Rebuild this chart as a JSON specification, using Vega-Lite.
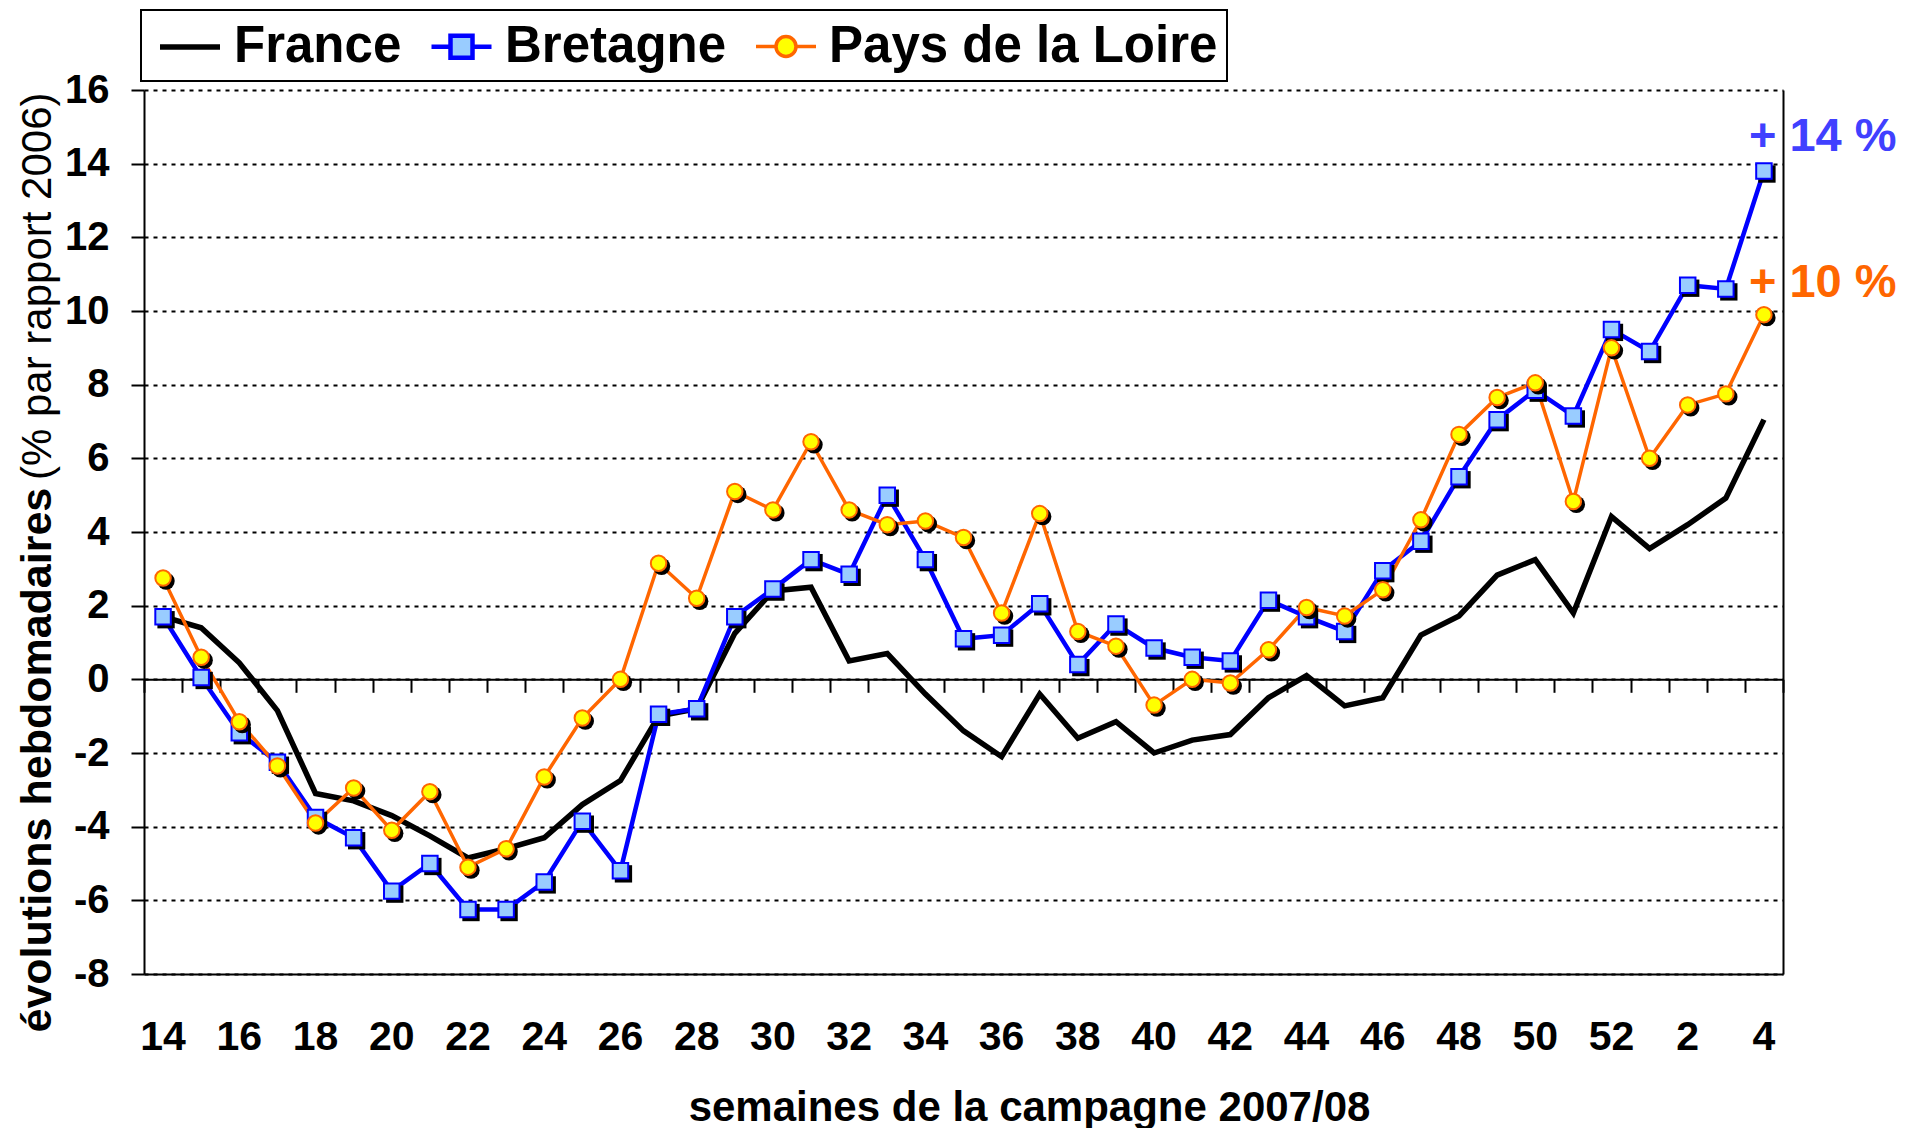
{
  "$schema": "https://vega.github.io/schema/vega-lite/v6.json",
  "width": 1639,
  "height": 884,
  "autosize": {"type": "none"},
  "padding": {"left": 144, "top": 90, "right": 124, "bottom": 154},
  "background": "white",
  "config": {
    "view": {"stroke": null},
    "font": "Liberation Sans",
    "legend": {
      "orient": "none",
      "legendX": -3,
      "legendY": -80,
      "direction": "horizontal",
      "strokeColor": "black",
      "strokeWidth": 2,
      "fillColor": "white",
      "padding": 9,
      "labelFont": "Liberation Sans",
      "labelFontSize": 51,
      "labelFontWeight": "bold",
      "labelColor": "black",
      "symbolSize": 2500,
      "labelOffset": 28,
      "columnPadding": 20,
      "labelLimit": 0
    }
  },
  "data": {
    "values": [
      {"semaine": "14", "France": 1.7, "Bretagne": 1.7, "Pays de la Loire": 2.75},
      {"semaine": "15", "France": 1.4, "Bretagne": 0.05, "Pays de la Loire": 0.6},
      {"semaine": "16", "France": 0.45, "Bretagne": -1.45, "Pays de la Loire": -1.15},
      {"semaine": "17", "France": -0.85, "Bretagne": -2.25, "Pays de la Loire": -2.35},
      {"semaine": "18", "France": -3.1, "Bretagne": -3.75, "Pays de la Loire": -3.9},
      {"semaine": "19", "France": -3.3, "Bretagne": -4.3, "Pays de la Loire": -2.95},
      {"semaine": "20", "France": -3.7, "Bretagne": -5.75, "Pays de la Loire": -4.1},
      {"semaine": "21", "France": -4.25, "Bretagne": -5.0, "Pays de la Loire": -3.05},
      {"semaine": "22", "France": -4.85, "Bretagne": -6.25, "Pays de la Loire": -5.1},
      {"semaine": "23", "France": -4.6, "Bretagne": -6.25, "Pays de la Loire": -4.6},
      {"semaine": "24", "France": -4.3, "Bretagne": -5.5, "Pays de la Loire": -2.65},
      {"semaine": "25", "France": -3.4, "Bretagne": -3.85, "Pays de la Loire": -1.05},
      {"semaine": "26", "France": -2.75, "Bretagne": -5.2, "Pays de la Loire": 0.0},
      {"semaine": "27", "France": -1.0, "Bretagne": -0.95, "Pays de la Loire": 3.15},
      {"semaine": "28", "France": -0.8, "Bretagne": -0.8, "Pays de la Loire": 2.2},
      {"semaine": "29", "France": 1.25, "Bretagne": 1.7, "Pays de la Loire": 5.1},
      {"semaine": "30", "France": 2.4, "Bretagne": 2.45, "Pays de la Loire": 4.6},
      {"semaine": "31", "France": 2.5, "Bretagne": 3.25, "Pays de la Loire": 6.45},
      {"semaine": "32", "France": 0.5, "Bretagne": 2.85, "Pays de la Loire": 4.6},
      {"semaine": "33", "France": 0.7, "Bretagne": 5.0, "Pays de la Loire": 4.2},
      {"semaine": "34", "France": -0.4, "Bretagne": 3.25, "Pays de la Loire": 4.3},
      {"semaine": "35", "France": -1.4, "Bretagne": 1.1, "Pays de la Loire": 3.85},
      {"semaine": "36", "France": -2.1, "Bretagne": 1.2, "Pays de la Loire": 1.8},
      {"semaine": "37", "France": -0.4, "Bretagne": 2.05, "Pays de la Loire": 4.5},
      {"semaine": "38", "France": -1.6, "Bretagne": 0.4, "Pays de la Loire": 1.3},
      {"semaine": "39", "France": -1.15, "Bretagne": 1.5, "Pays de la Loire": 0.9},
      {"semaine": "40", "France": -2.0, "Bretagne": 0.85, "Pays de la Loire": -0.7},
      {"semaine": "41", "France": -1.65, "Bretagne": 0.6, "Pays de la Loire": 0.0},
      {"semaine": "42", "France": -1.5, "Bretagne": 0.5, "Pays de la Loire": -0.1},
      {"semaine": "43", "France": -0.5, "Bretagne": 2.15, "Pays de la Loire": 0.8},
      {"semaine": "44", "France": 0.1, "Bretagne": 1.7, "Pays de la Loire": 1.95},
      {"semaine": "45", "France": -0.72, "Bretagne": 1.3, "Pays de la Loire": 1.72},
      {"semaine": "46", "France": -0.5, "Bretagne": 2.95, "Pays de la Loire": 2.43},
      {"semaine": "47", "France": 1.2, "Bretagne": 3.75, "Pays de la Loire": 4.33},
      {"semaine": "48", "France": 1.72, "Bretagne": 5.5, "Pays de la Loire": 6.65},
      {"semaine": "49", "France": 2.83, "Bretagne": 7.05, "Pays de la Loire": 7.65},
      {"semaine": "50", "France": 3.25, "Bretagne": 7.85, "Pays de la Loire": 8.05},
      {"semaine": "51", "France": 1.8, "Bretagne": 7.15, "Pays de la Loire": 4.83},
      {"semaine": "52", "France": 4.42, "Bretagne": 9.5, "Pays de la Loire": 9.0},
      {"semaine": "1", "France": 3.55, "Bretagne": 8.9, "Pays de la Loire": 6.0},
      {"semaine": "2", "France": 4.2, "Bretagne": 10.7, "Pays de la Loire": 7.45},
      {"semaine": "3", "France": 4.92, "Bretagne": 10.6, "Pays de la Loire": 7.75},
      {"semaine": "4", "France": 7.05, "Bretagne": 13.8, "Pays de la Loire": 9.9}
    ]
  },
  "transform": [
    {"fold": ["France", "Bretagne", "Pays de la Loire"], "as": ["serie", "valeur"]}
  ],
  "layer": [
    {
      "mark": {"type": "line", "strokeJoin": "miter"},
      "encoding": {
        "x": {
          "field": "semaine", "type": "ordinal",
          "scale": {"type": "band", "paddingInner": 0, "paddingOuter": 0,
            "domain": ["14","15","16","17","18","19","20","21","22","23","24","25","26","27","28","29","30","31","32","33","34","35","36","37","38","39","40","41","42","43","44","45","46","47","48","49","50","51","52","1","2","3","4"]},
          "axis": {
            "orient": "bottom",
            "values": ["14","16","18","20","22","24","26","28","30","32","34","36","38","40","42","44","46","48","50","52","2","4"],
            "domain": true, "domainColor": "black", "domainWidth": 2,
            "ticks": false, "tickSize": 0, "grid": false,
            "labelAngle": 0, "labelFont": "Liberation Sans", "labelFontSize": 41, "labelFontWeight": "bold", "labelColor": "black",
            "labelPadding": 43, "labelBaseline": "top",
            "title": "semaines de la campagne 2007/08",
            "titleFont": "Liberation Sans", "titleFontSize": 42, "titleFontWeight": "bold", "titleColor": "black",
            "titleX": 885, "titleY": 146, "titleBaseline": "alphabetic", "titleAlign": "center"
          }
        },
        "y": {
          "field": "valeur", "type": "quantitative",
          "scale": {"domain": [-8, 16], "nice": false, "zero": false},
          "axis": {
            "orient": "left",
            "values": [-8, -6, -4, -2, 0, 2, 4, 6, 8, 10, 12, 14, 16],
            "labelExpr": "'' + datum.value",
            "domain": true, "domainColor": "black", "domainWidth": 2,
            "ticks": true, "tickSize": 13, "tickWidth": 2, "tickColor": "black",
            "grid": true, "gridColor": "black", "gridDash": [4, 5], "gridWidth": 2, "gridOpacity": 1,
            "labelFont": "Liberation Sans", "labelFontSize": 40, "labelFontWeight": "bold", "labelColor": "black",
            "labelPadding": 22, "labelFlush": false, "labelOverlap": false,
            "title": "évolutions hebdomadaires",
            "titleFont": "Liberation Sans", "titleFontSize": 43, "titleFontWeight": "bold", "titleColor": "black",
            "titleAngle": -90, "titleX": -94, "titleY": 942, "titleAlign": "left", "titleBaseline": "alphabetic"
          }
        },
        "color": {
          "field": "serie", "type": "nominal", "title": null,
          "scale": {"domain": ["France", "Bretagne", "Pays de la Loire"], "range": ["#000000", "#0000FF", "#FF6600"]},
          "legend": {
            "encode": {"symbols": {"update": {
              "fill": {"signal": "datum.value === 'Bretagne' ? '#99CCFF' : (datum.value === 'Pays de la Loire' ? '#FFFF00' : 'transparent')"},
              "fillOpacity": {"value": 1},
              "opacity": {"value": 1}
            }}}
          }
        },
        "strokeWidth": {
          "field": "serie", "type": "nominal", "title": null,
          "scale": {"domain": ["France", "Bretagne", "Pays de la Loire"], "range": [5.5, 3.5, 3]}
        }
      }
    },
    {
      "mark": {"type": "point", "filled": false, "opacity": 0},
      "encoding": {
        "x": {
          "field": "semaine", "type": "ordinal",
          "axis": {
            "orient": "bottom", "offset": -294.7,
            "domain": true, "domainColor": "black", "domainWidth": 2,
            "ticks": true, "tickBand": "extent", "tickSize": 13, "tickWidth": 2, "tickColor": "black",
            "labels": false, "grid": false, "title": null
          }
        },
        "y": {
          "field": "valeur", "type": "quantitative",
          "axis": {
            "orient": "left",
            "domain": false, "ticks": false, "labels": false, "grid": false,
            "title": "(% par rapport 2006)",
            "titleFont": "Liberation Sans", "titleFontSize": 42, "titleFontWeight": "normal", "titleColor": "black",
            "titleAngle": -90, "titleX": -94, "titleY": 2, "titleAlign": "right", "titleBaseline": "alphabetic"
          }
        },
        "color": {"field": "serie", "type": "nominal", "title": null},
        "strokeWidth": {"field": "serie", "type": "nominal", "title": null},
        "shape": {
          "field": "serie", "type": "nominal", "title": null,
          "scale": {"domain": ["France", "Bretagne", "Pays de la Loire"],
            "range": ["M-0.72,0H1.68", "M-0.72,0H0.04M0.92,0H1.68M0.04,-0.44H0.92V0.44H0.04Z", "M-0.72,0H0.08M0.88,0H1.68M0.08,0A0.4,0.4 0 1,0 0.88,0A0.4,0.4 0 1,0 0.08,0Z"]}
        }
      }
    },
    {
      "transform": [{"filter": "datum.serie === 'Bretagne'"}],
      "mark": {"type": "point", "shape": "square", "filled": true, "size": 300, "color": "black", "opacity": 1, "xOffset": 3, "yOffset": 3},
      "encoding": {
        "x": {"field": "semaine", "type": "ordinal", "axis": null},
        "y": {
          "field": "valeur", "type": "quantitative",
          "axis": {"orient": "right", "domain": true, "domainColor": "black", "domainWidth": 2, "ticks": false, "labels": false, "grid": false, "title": null}
        }
      }
    },
    {
      "transform": [{"filter": "datum.serie === 'Bretagne'"}],
      "mark": {"type": "point", "shape": "square", "filled": true, "size": 240, "fill": "#99CCFF", "stroke": "#0000FF", "strokeWidth": 2, "opacity": 1},
      "encoding": {
        "x": {"field": "semaine", "type": "ordinal", "axis": null},
        "y": {"field": "valeur", "type": "quantitative", "axis": null}
      }
    },
    {
      "transform": [{"filter": "datum.serie === 'Pays de la Loire'"}],
      "mark": {"type": "point", "shape": "circle", "filled": true, "size": 300, "color": "black", "opacity": 1, "xOffset": 3, "yOffset": 3},
      "encoding": {
        "x": {"field": "semaine", "type": "ordinal", "axis": null},
        "y": {"field": "valeur", "type": "quantitative", "axis": null}
      }
    },
    {
      "transform": [{"filter": "datum.serie === 'Pays de la Loire'"}],
      "mark": {"type": "point", "shape": "circle", "filled": true, "size": 240, "fill": "#FFFF00", "stroke": "#FF6600", "strokeWidth": 2, "opacity": 1},
      "encoding": {
        "x": {"field": "semaine", "type": "ordinal", "axis": null},
        "y": {"field": "valeur", "type": "quantitative", "axis": null}
      }
    },
    {
      "transform": [{"filter": "datum.serie === 'Bretagne' && datum.semaine === '4'"}],
      "mark": {"type": "text", "text": "+ 14 %", "align": "left", "baseline": "alphabetic", "dx": -15, "dy": -20,
        "font": "Liberation Sans", "fontSize": 47, "fontWeight": "bold", "color": "#4040FF"},
      "encoding": {
        "x": {"field": "semaine", "type": "ordinal", "axis": null},
        "y": {"field": "valeur", "type": "quantitative", "axis": null}
      }
    },
    {
      "transform": [{"filter": "datum.serie === 'Pays de la Loire' && datum.semaine === '4'"}],
      "mark": {"type": "text", "text": "+ 10 %", "align": "left", "baseline": "alphabetic", "dx": -15, "dy": -18,
        "font": "Liberation Sans", "fontSize": 47, "fontWeight": "bold", "color": "#FF6600"},
      "encoding": {
        "x": {"field": "semaine", "type": "ordinal", "axis": null},
        "y": {"field": "valeur", "type": "quantitative", "axis": null}
      }
    }
  ],
  "resolve": {"axis": {"x": "independent", "y": "independent"}}
}
